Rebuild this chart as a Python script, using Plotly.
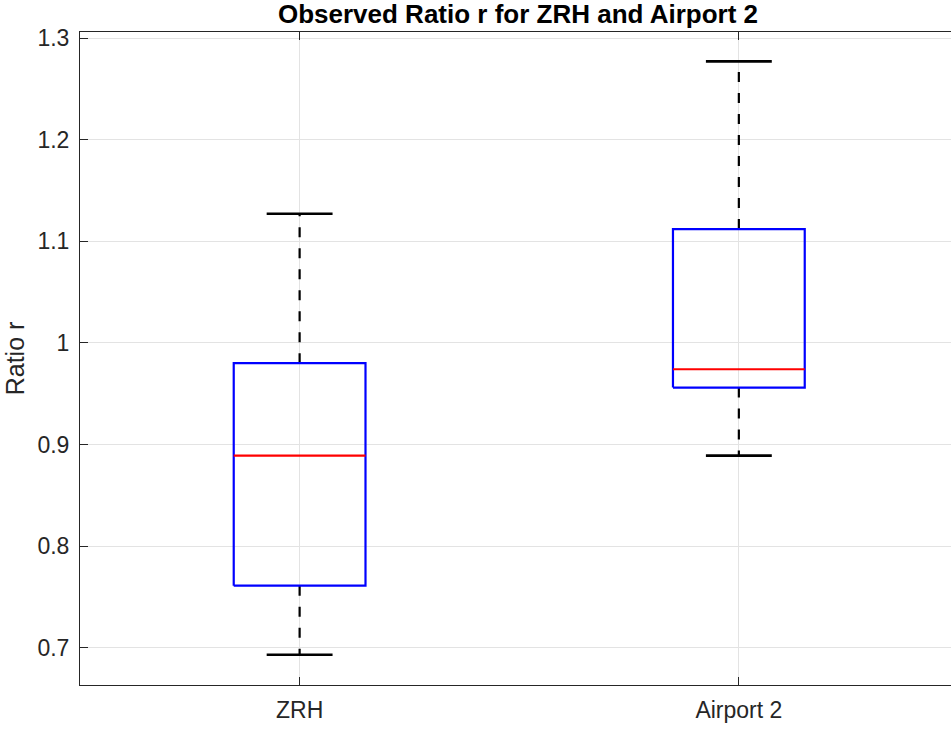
import plotly.graph_objects as go

# Box-plot summary statistics for each airport
categories = ["ZRH", "Airport 2"]
lower_whisker = [0.693, 0.889]
q1 = [0.761, 0.956]
median = [0.889, 0.974]
q3 = [0.980, 1.112]
upper_whisker = [1.127, 1.277]

y_ticks = [0.7, 0.8, 0.9, 1.0, 1.1, 1.2, 1.3]
y_tick_labels = ["0.7", "0.8", "0.9", "1", "1.1", "1.2", "1.3"]

BOX_HALF = 0.15
CAP_HALF = 0.075

fig = go.Figure()

for i, name in enumerate(categories):
    x = i + 1
    # whiskers (dashed)
    fig.add_trace(go.Scatter(
        x=[x, x, None, x, x],
        y=[q3[i], upper_whisker[i], None, q1[i], lower_whisker[i]],
        mode="lines", line=dict(color="black", width=2.2, dash="10px,11px"),
        hoverinfo="skip", showlegend=False))
    # whisker caps
    fig.add_trace(go.Scatter(
        x=[x - CAP_HALF, x + CAP_HALF, None, x - CAP_HALF, x + CAP_HALF],
        y=[upper_whisker[i], upper_whisker[i], None, lower_whisker[i], lower_whisker[i]],
        mode="lines", line=dict(color="black", width=2.6),
        hoverinfo="skip", showlegend=False))
    # box
    fig.add_trace(go.Scatter(
        x=[x - BOX_HALF, x + BOX_HALF, x + BOX_HALF, x - BOX_HALF, x - BOX_HALF],
        y=[q1[i], q1[i], q3[i], q3[i], q1[i]],
        mode="lines", line=dict(color="#0000ff", width=2.2),
        hoverinfo="skip", showlegend=False))
    # median
    fig.add_trace(go.Scatter(
        x=[x - BOX_HALF, x + BOX_HALF],
        y=[median[i], median[i]],
        mode="lines", line=dict(color="#ff0000", width=2.2),
        hoverinfo="skip", showlegend=False))

axis_color = "#262626"
fig.update_layout(
    width=951, height=729,
    margin=dict(l=80, r=0, t=32, b=44),
    plot_bgcolor="white", paper_bgcolor="white",
    font=dict(family="Liberation Sans, Arial, sans-serif", size=23, color=axis_color),
    title=dict(text="<b>Observed Ratio r for ZRH and Airport 2</b>",
               x=518 / 951, xanchor="center", y=1 - 14 / 729, yanchor="middle",
               font=dict(size=26, color="black")),
    xaxis=dict(
        range=[0.5, 2.483], tickvals=[1, 2], ticktext=categories,
        ticks="inside", ticklen=8, tickcolor=axis_color, tickwidth=1,
        showline=True, linecolor=axis_color, linewidth=1, mirror="ticks",
        showgrid=True, gridcolor="#e3e3e3", gridwidth=1, zeroline=False,
        ticklabelstandoff=4,
    ),
    yaxis=dict(
        range=[0.6633, 1.3059], tickvals=y_ticks, ticktext=y_tick_labels,
        ticks="inside", ticklen=8, tickcolor=axis_color, tickwidth=1,
        showline=True, linecolor=axis_color, linewidth=1, mirror=False,
        showgrid=True, gridcolor="#e3e3e3", gridwidth=1, zeroline=False,
        ticklabelstandoff=5,
        title=dict(text="Ratio r", font=dict(size=25), standoff=5),
    ),
)

fig.write_html("out.html")
